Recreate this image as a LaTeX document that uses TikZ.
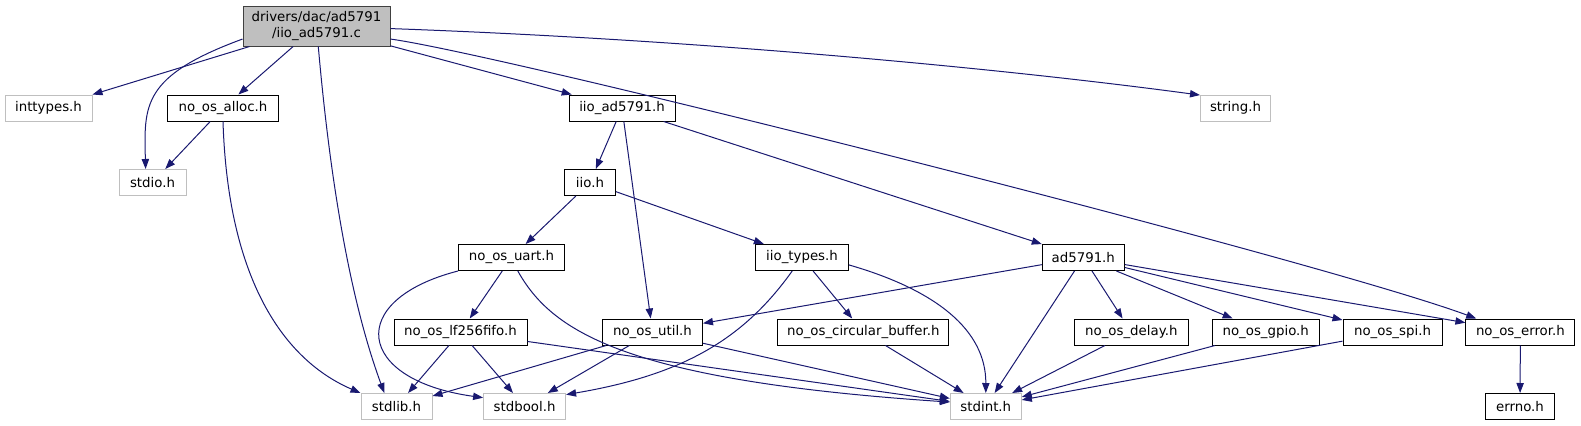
\documentclass[tikz,border=0pt]{standalone}
\usepackage{fontspec}
\setmainfont{DejaVu Sans}
\usetikzlibrary{arrows.meta}
\definecolor{edgeblue}{RGB}{25,25,112}
\definecolor{grayfill}{RGB}{191,191,191}
\definecolor{grayline}{RGB}{64,64,64}

\begin{document}
\begin{tikzpicture}[x=0.75pt,y=0.75pt,yscale=-1,xscale=1,
    filebox/.style={draw, line width=0.75pt, inner sep=0pt, minimum height=19.5pt,
        minimum width=#1*0.75pt, font=\fontsize{10}{12.5}\selectfont},
    sysbox/.style={filebox=#1, draw=grayfill},
    hdrbox/.style={filebox=#1, draw=black},
    dep/.style={draw=edgeblue, line width=0.75pt, -{Triangle[length=7.5pt,width=5.5pt]}}]
\useasboundingbox (0,0) rectangle (1581,425);

% Source file
\node [filebox=147, minimum height=30pt, fill=grayfill, draw=grayline, align=center] (main) at (316.5,26) {drivers/dac/ad5791\\/iio\_ad5791.c};

% Row 1
\node [sysbox=87] (inttypes) at (48.5,108) {inttypes.h};
\node [hdrbox=111] (alloc) at (223,108) {no\_os\_alloc.h};
\node [hdrbox=106] (iioad) at (622,108) {iio\_ad5791.h};
\node [sysbox=70] (strh) at (1235.5,108) {string.h};
% Row 2
\node [sysbox=67] (stdio) at (152.5,182.5) {stdio.h};
\node [hdrbox=51] (iio) at (590,182.5) {iio.h};
% Row 3
\node [hdrbox=106] (uart) at (511.5,257.5) {no\_os\_uart.h};
\node [hdrbox=93] (types) at (802,257.5) {iio\_types.h};
\node [hdrbox=82] (ad) at (1083.3,257.5) {ad5791.h};
% Row 4
\node [hdrbox=133] (fifo) at (460.5,332) {no\_os\_lf256fifo.h};
\node [hdrbox=100] (util) at (652.5,332) {no\_os\_util.h};
\node [hdrbox=171] (circbuf) at (863.3,332) {no\_os\_circular\_buffer.h};
\node [hdrbox=114] (delay) at (1131.3,332) {no\_os\_delay.h};
\node [hdrbox=107] (gpio) at (1265.7,332) {no\_os\_gpio.h};
\node [hdrbox=99] (spi) at (1392.5,332) {no\_os\_spi.h};
\node [hdrbox=109] (error) at (1520.4,332) {no\_os\_error.h};
% Row 5
\node [sysbox=71] (stdlib) at (396.5,406.5) {stdlib.h};
\node [sysbox=82] (stdbool) at (524.6,406.5) {stdbool.h};
\node [sysbox=71] (stdint) at (985.8,406.5) {stdint.h};
\node [hdrbox=69] (errno) at (1520,406.5) {errno.h};

% Straight Lines
\draw [dep] (main) -- (inttypes);
\draw [dep] (main) -- (alloc);
\draw [dep] (main) -- (iioad);
\draw [dep] (alloc) -- (stdio);
\draw [dep] (iioad) -- (iio);
\draw [dep] (iioad) -- (util);
\draw [dep] (iioad) -- (ad);
\draw [dep] (iio) -- (uart);
\draw [dep] (iio) -- (types);
\draw [dep] (uart) -- (fifo);
\draw [dep] (types) -- (circbuf);
\draw [dep] (ad) -- (util);
\draw [dep] (ad) -- (stdint);
\draw [dep] (ad) -- (delay);
\draw [dep] (ad) -- (gpio);
\draw [dep] (ad) -- (spi);
\draw [dep] (ad) -- (error);
\draw [dep] (fifo) -- (stdlib);
\draw [dep] (fifo) -- (stdbool);
\draw [dep] (fifo) -- (stdint);
\draw [dep] (util) -- (stdlib);
\draw [dep] (util) -- (stdbool);
\draw [dep] (util) -- (stdint);
\draw [dep] (circbuf) -- (stdint);
\draw [dep] (delay) -- (stdint);
\draw [dep] (gpio) -- (stdint);
\draw [dep] (spi) -- (stdint);
\draw [dep] (error) -- (errno);

% Curve Lines
\draw [dep] (main.190) .. controls (142,76) and (144,105) .. (stdio.117);
\draw [dep] (main.-85) .. controls (330,180) and (350,300) .. (stdlib.132);
\draw [dep] (main.-2) .. controls (710,40) and (1014,70) .. (strh.160);
\draw [dep] (main.-10) .. controls (507,55) and (1318,260) .. (error.163);
\draw [dep] (alloc.south) .. controls (228,280) and (284,360) .. (stdlib.north west);
\draw [dep] (uart.south west) .. controls (345,300) and (355,380) .. (stdbool.168);
\draw [dep] (uart.-65) .. controls (551,330) and (621,380) .. (stdint.173);
\draw [dep] (types.-126) .. controls (743,340) and (682,375) .. (stdbool.16);
\draw [dep] (types.-9) .. controls (936,290) and (986,330) .. (stdint.north);
\end{tikzpicture}
\end{document}
